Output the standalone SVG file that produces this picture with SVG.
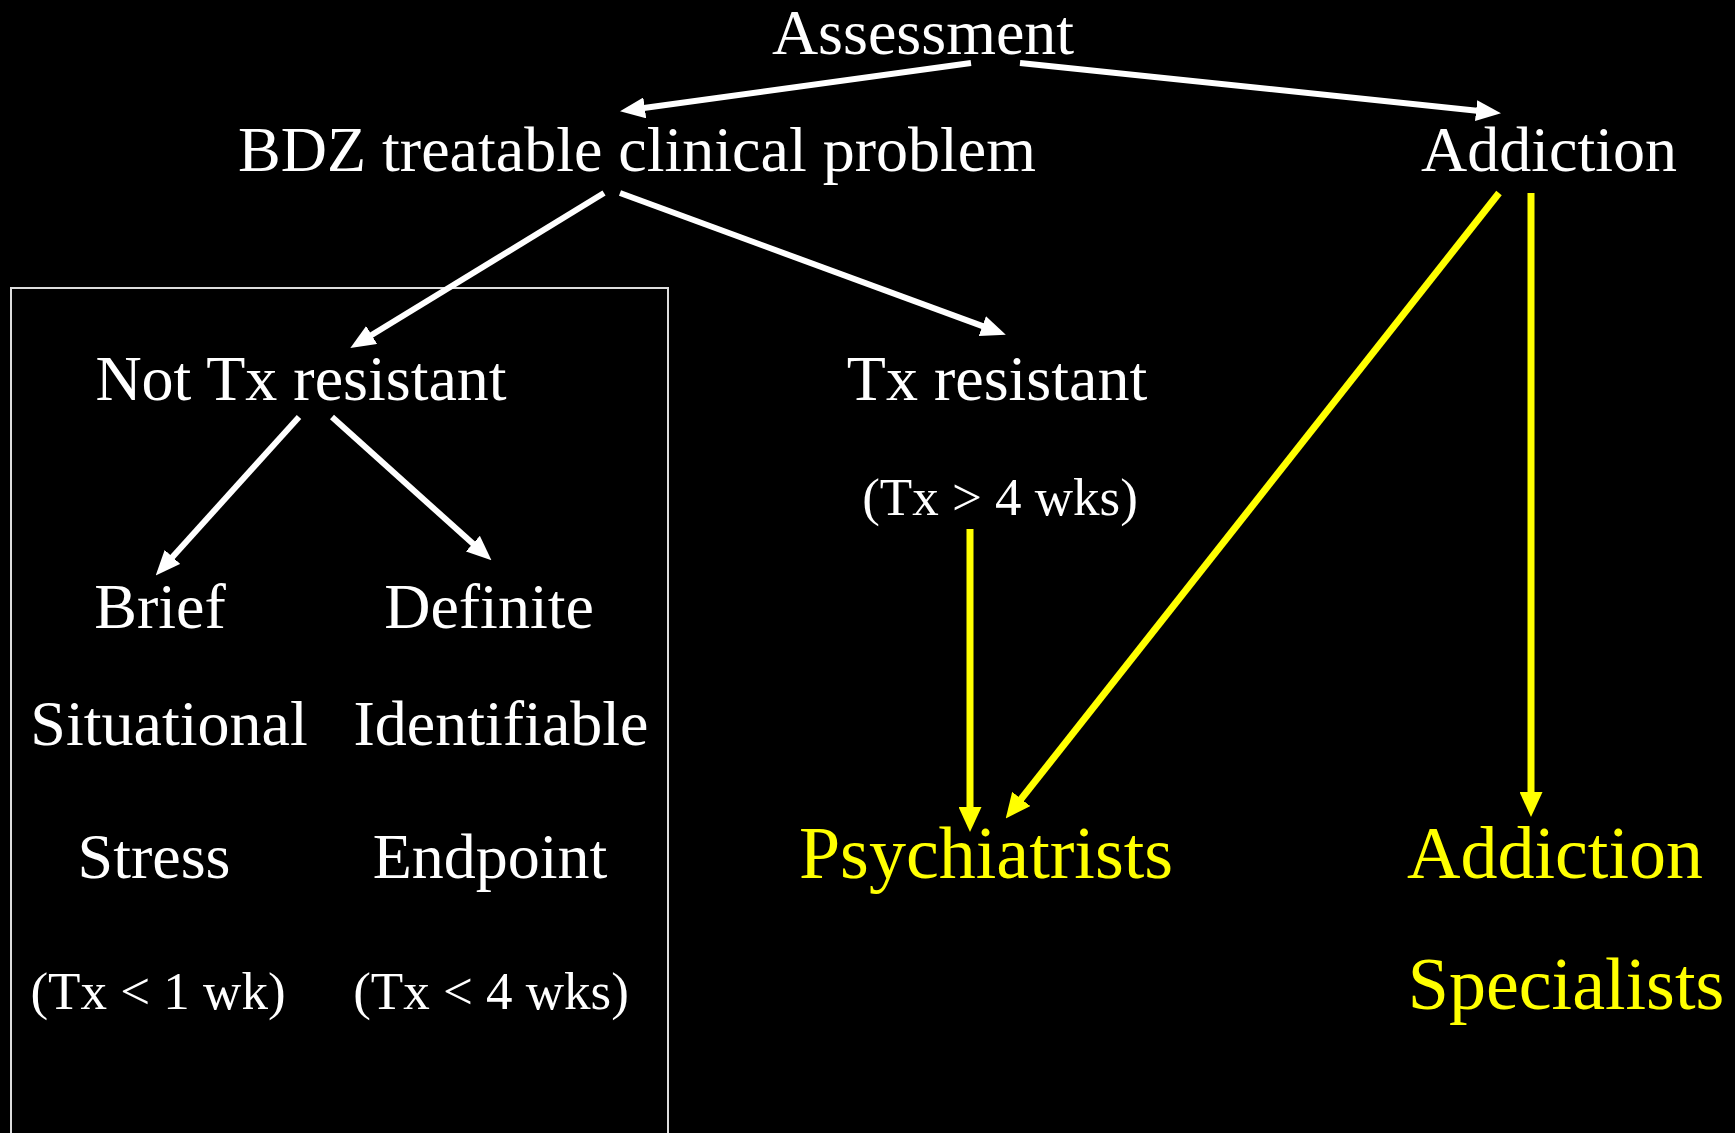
<svg xmlns="http://www.w3.org/2000/svg" width="1735" height="1133" viewBox="0 0 1735 1133">
<style>
text{font-family:"Liberation Serif","Times New Roman",serif;text-anchor:middle}
.w{fill:#fff;font-size:64px}
.s{fill:#fff;font-size:53px}
.y{fill:#ff0;font-size:74px}
.cw{stroke:#fff;stroke-width:6;fill:none;marker-end:url(#aw)}
.cy{stroke:#ff0;stroke-width:7;fill:none;marker-end:url(#ay)}
</style>
<defs>
<marker id="aw" markerUnits="userSpaceOnUse" markerWidth="25" markerHeight="21" refX="1" refY="10.5" orient="auto" viewBox="0 0 25 21"><path d="M0,0 L25,10.5 L0,21 z" fill="#fff"/></marker>
<marker id="ay" markerUnits="userSpaceOnUse" markerWidth="25" markerHeight="23" refX="1" refY="11.5" orient="auto" viewBox="0 0 25 23"><path d="M0,0 L25,11.5 L0,23 z" fill="#ff0"/></marker>
</defs>
<rect width="1735" height="1133" fill="#000"/>
<rect id="box" x="11" y="288" width="657" height="860" fill="none" stroke="#ddd" stroke-width="2"/>
<g id="connectors">
<path class="cw" d="M971,63 L643.8,108"/>
<path class="cw" d="M1020,63 L1477.1,110.7"/>
<path class="cw" d="M604,193 L370.8,335.5"/>
<path class="cw" d="M620,193 L983.3,326.4"/>
<path class="cw" d="M299,417 L171.8,557.7"/>
<path class="cw" d="M332,417 L473.6,544.3"/>
<path class="cy" d="M970,529 L970,808"/>
<path class="cy" d="M1499,193 L1020.6,799.7"/>
<path class="cy" d="M1531,193 L1531,793"/>
</g>
<g id="assessment"><text class="w" x="923" y="54">Assessment</text></g>
<g id="bdz"><text class="w" x="637" y="171">BDZ treatable clinical problem</text></g>
<g id="addiction"><text class="w" x="1549" y="171">Addiction</text></g>
<g id="not-tx"><text class="w" x="301" y="400">Not Tx resistant</text></g>
<g id="tx-resistant"><text class="w" x="997" y="400">Tx resistant</text><text class="s" x="1000" y="515">(Tx &gt; 4 wks)</text></g>
<g id="brief"><text class="w" x="160" y="628">Brief</text><text class="w" x="169" y="745">Situational</text><text class="w" x="154" y="878">Stress</text><text class="s" x="158" y="1009">(Tx &lt; 1 wk)</text></g>
<g id="definite"><text class="w" x="489" y="628">Definite</text><text class="w" x="501" y="745">Identifiable</text><text class="w" x="490" y="878">Endpoint</text><text class="s" x="491" y="1009">(Tx &lt; 4 wks)</text></g>
<g id="psychiatrists"><text class="y" x="986" y="878">Psychiatrists</text></g>
<g id="specialists"><text class="y" x="1555" y="878">Addiction</text><text class="y" x="1566" y="1009">Specialists</text></g>
</svg>
